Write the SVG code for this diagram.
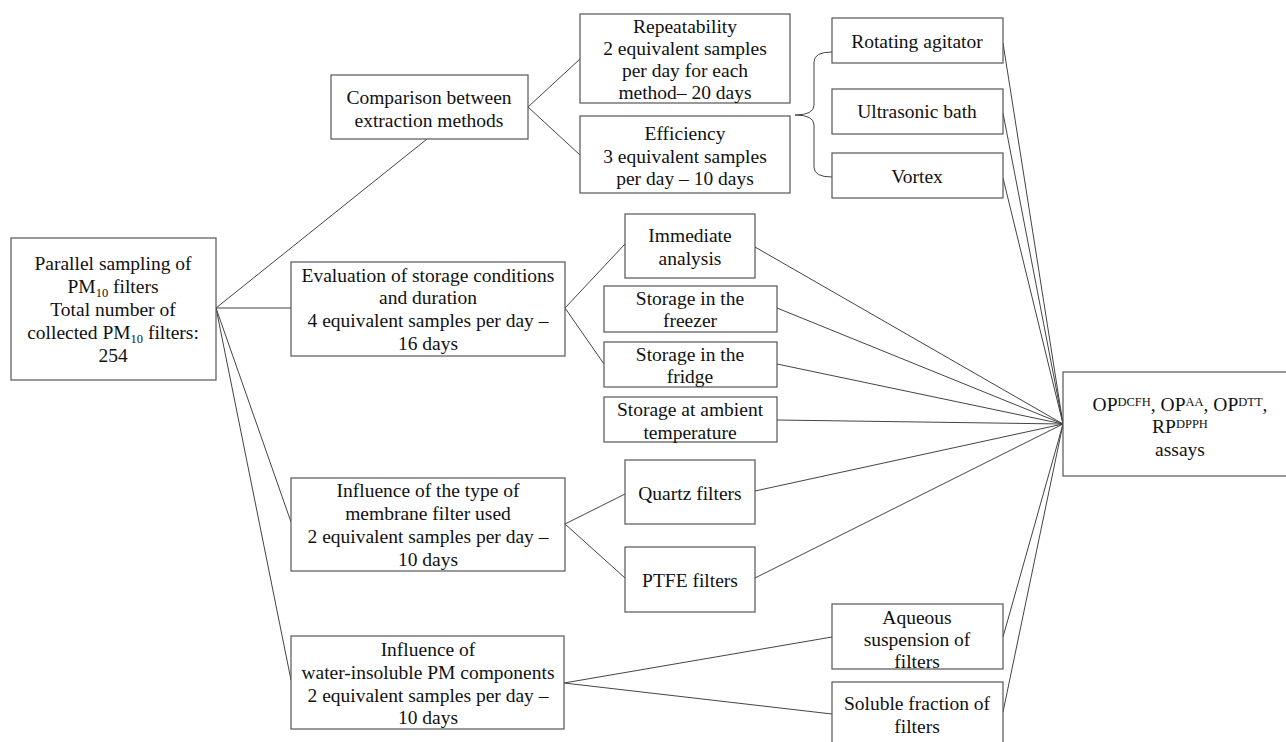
<svg xmlns="http://www.w3.org/2000/svg" width="1286" height="742" viewBox="0 0 1286 742">
<style>
.box{fill:#fff;stroke:#555;stroke-width:1.2}
.ln{fill:none;stroke:#444;stroke-width:1}
text{font-family:"Liberation Serif","Times New Roman",serif;font-size:19.5px;fill:#111;text-anchor:middle}
.sub{font-size:12.5px}
.sup{font-size:12.5px}
</style>
<rect width="1286" height="742" fill="#fff"/>
<g id="connectors">
<line class="ln" x1="216" y1="308" x2="427" y2="139"/>
<line class="ln" x1="216" y1="308" x2="291" y2="308"/>
<line class="ln" x1="216" y1="308" x2="291" y2="522"/>
<line class="ln" x1="216" y1="308" x2="291" y2="680"/>
<line class="ln" x1="528" y1="107" x2="580" y2="59"/>
<line class="ln" x1="528" y1="107" x2="580" y2="155"/>
<path class="ln" d="M795,115 Q814,115 814,105 L814,62 Q814,52 832,52"/>
<path class="ln" d="M795,115 Q814,115 814,125 L814,167 Q814,177 832,177"/>
<line class="ln" x1="565" y1="308" x2="625" y2="244"/>
<line class="ln" x1="565" y1="308" x2="604" y2="364"/>
<line class="ln" x1="565" y1="524" x2="625" y2="494"/>
<line class="ln" x1="565" y1="524" x2="625" y2="578"/>
<line class="ln" x1="564" y1="683" x2="832" y2="637"/>
<line class="ln" x1="564" y1="683" x2="832" y2="714"/>
<line class="ln" x1="1003" y1="43" x2="1063" y2="424"/>
<line class="ln" x1="1003" y1="113" x2="1063" y2="424"/>
<line class="ln" x1="1003" y1="178" x2="1063" y2="424"/>
<line class="ln" x1="755" y1="247" x2="1063" y2="424"/>
<line class="ln" x1="777" y1="308" x2="1063" y2="424"/>
<line class="ln" x1="777" y1="364" x2="1063" y2="424"/>
<line class="ln" x1="777" y1="420" x2="1063" y2="424"/>
<line class="ln" x1="755" y1="491" x2="1063" y2="424"/>
<line class="ln" x1="755" y1="578" x2="1063" y2="424"/>
<line class="ln" x1="1003" y1="637" x2="1063" y2="424"/>
<line class="ln" x1="1003" y1="712" x2="1063" y2="424"/>
</g>
<g id="root">
<rect class="box" x="11" y="238" width="205" height="142"/>
<text x="113" y="270">Parallel sampling of</text>
<text x="113" y="293">PM<tspan class="sub" dy="4">10</tspan><tspan dy="-4"> filters</tspan></text>
<text x="113" y="316">Total number of</text>
<text x="113" y="339">collected PM<tspan class="sub" dy="4">10</tspan><tspan dy="-4"> filters:</tspan></text>
<text x="113" y="362">254</text>
</g>
<g id="comparison">
<rect class="box" x="331" y="75" width="197" height="64"/>
<text x="429" y="104">Comparison between</text>
<text x="429" y="127">extraction methods</text>
</g>
<g id="repeatability">
<rect class="box" x="580" y="14" width="210" height="89"/>
<text x="685" y="33">Repeatability</text>
<text x="685" y="55">2 equivalent samples</text>
<text x="685" y="77">per day for each</text>
<text x="685" y="99">method– 20 days</text>
</g>
<g id="efficiency">
<rect class="box" x="580" y="116" width="210" height="77"/>
<text x="685" y="140">Efficiency</text>
<text x="685" y="163">3 equivalent samples</text>
<text x="685" y="185">per day – 10 days</text>
</g>
<g id="rotating">
<rect class="box" x="832" y="18" width="171" height="45"/>
<text x="917" y="48">Rotating agitator</text>
</g>
<g id="ultrasonic">
<rect class="box" x="832" y="89" width="171" height="45"/>
<text x="917" y="118">Ultrasonic bath</text>
</g>
<g id="vortex">
<rect class="box" x="832" y="153" width="171" height="45"/>
<text x="917" y="183">Vortex</text>
</g>
<g id="storage">
<rect class="box" x="291" y="262" width="274" height="94"/>
<text x="428" y="282">Evaluation of storage conditions</text>
<text x="428" y="304">and duration</text>
<text x="428" y="327">4 equivalent samples per day –</text>
<text x="428" y="350">16 days</text>
</g>
<g id="immediate">
<rect class="box" x="625" y="214" width="130" height="64"/>
<text x="690" y="242">Immediate</text>
<text x="690" y="265">analysis</text>
</g>
<g id="freezer">
<rect class="box" x="604" y="286" width="173" height="46"/>
<text x="690" y="305">Storage in the</text>
<text x="690" y="327">freezer</text>
</g>
<g id="fridge">
<rect class="box" x="604" y="342" width="173" height="45"/>
<text x="690" y="361">Storage in the</text>
<text x="690" y="383">fridge</text>
</g>
<g id="ambient">
<rect class="box" x="604" y="397" width="173" height="45"/>
<text x="690" y="416">Storage at ambient</text>
<text x="690" y="439">temperature</text>
</g>
<g id="membrane">
<rect class="box" x="291" y="478" width="274" height="93"/>
<text x="428" y="497">Influence of the type of</text>
<text x="428" y="520">membrane filter used</text>
<text x="428" y="543">2 equivalent samples per day –</text>
<text x="428" y="566">10 days</text>
</g>
<g id="quartz">
<rect class="box" x="625" y="460" width="130" height="64"/>
<text x="690" y="500">Quartz filters</text>
</g>
<g id="ptfe">
<rect class="box" x="625" y="547" width="130" height="65"/>
<text x="690" y="587">PTFE filters</text>
</g>
<g id="waterinsoluble">
<rect class="box" x="291" y="636" width="273" height="93"/>
<text x="428" y="656">Influence of</text>
<text x="428" y="679">water-insoluble PM components</text>
<text x="428" y="702">2 equivalent samples per day –</text>
<text x="428" y="724">10 days</text>
</g>
<g id="aqueous">
<rect class="box" x="832" y="604" width="171" height="65"/>
<text x="917" y="624">Aqueous</text>
<text x="917" y="646">suspension of</text>
<text x="917" y="668">filters</text>
</g>
<g id="soluble">
<rect class="box" x="832" y="682" width="171" height="62"/>
<text x="917" y="710">Soluble fraction of</text>
<text x="917" y="733">filters</text>
</g>
<g id="assays">
<rect class="box" x="1063" y="372" width="240" height="104"/>
<text x="1180" y="411">OP<tspan class="sup" dy="-5.5">DCFH</tspan><tspan dy="5.5">, OP</tspan><tspan class="sup" dy="-5.5">AA</tspan><tspan dy="5.5">, OP</tspan><tspan class="sup" dy="-5.5">DTT</tspan><tspan dy="5.5">,</tspan></text>
<text x="1180" y="433">RP<tspan class="sup" dy="-5.5">DPPH</tspan></text>
<text x="1180" y="456">assays</text>
</g>
</svg>
